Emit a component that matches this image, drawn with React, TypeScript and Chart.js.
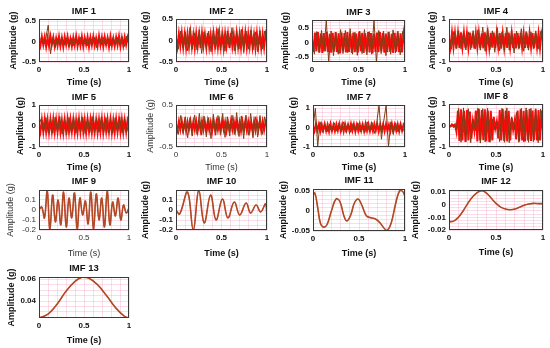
import React, { useEffect, useRef } from "react";
import { Chart, registerables } from "chart.js";
Chart.register(...registerables);

// ---------------- data ----------------
const imf1Red = [0.04,-0.1,0.12,-0.08,0.11,-0.13,0.09,-0.11,0.13,-0.07,0.1,-0.12,0.08,-0.1,0.12,-0.11,0.09,-0.13,0.11,-0.08,0.12,-0.1,0.07,-0.12,0.1,-0.09,0.13,-0.11,0.08,-0.1,0.12,-0.12,0.09,-0.08,0.11,-0.13,0.1,-0.09,0.12,-0.1,0.08,-0.11,0.13,-0.09,0.1,-0.12,0.11,-0.08,0.09,-0.13,0.12,-0.1,0.08,-0.11,0.1,-0.09,0.13,-0.12,0.09,-0.1,0.11,-0.08,0.1,-0.03];
const imf1Brown = [0.02,0.08,-0.06,0.1,0.4,-0.3,0.1,-0.15,0.08,-0.09,0.1,-0.08,0.09,-0.14,0.08,-0.1,0.09,-0.08,0.1,-0.09,0.08,-0.1,0.09,-0.08,0.1,-0.15,0.09,-0.08,0.1,-0.09,0.08,-0.1,0.09,-0.08,0.1,-0.09,0.12,-0.12,0.13,-0.1];

const imf2Red = [0.05,-0.15,0.16,-0.13,0.17,-0.16,0.14,-0.17,0.15,-0.14,0.18,-0.15,0.13,-0.17,0.16,-0.14,0.15,-0.18,0.17,-0.13,0.14,-0.16,0.18,-0.15,0.13,-0.17,0.16,-0.14,0.15,-0.16,0.17,-0.15,0.14,-0.18,0.16,-0.13,0.15,-0.17,0.18,-0.14,0.13,-0.16,0.17,-0.15,0.14,-0.17,0.16,-0.13,0.18,-0.16,0.15,-0.14,0.17,-0.15,0.13,-0.18,0.16,-0.14,0.15,-0.17,0.14,-0.16,0.15,0.02];
const imf2Brown = [0.1,-0.2,0.22,-0.18,0.2,-0.24,0.3,-0.2,0.18,-0.22,0.25,-0.3,0.2,-0.19,0.22,-0.26,0.24,-0.2,0.28,-0.22,0.2,-0.25,0.22,-0.18,0.3,-0.24,0.21,-0.2,0.26,-0.28,0.22,-0.2,0.24,-0.22,0.2,-0.26,0.23,-0.2,0.22,-0.1];

const imf3Red = [0.1,-0.32,0.35,-0.3,0.36,-0.34,0.31,-0.36,0.33,-0.3,0.37,-0.33,0.3,-0.35,0.34,-0.31,0.36,-0.33,0.32,-0.37,0.35,-0.3,0.33,-0.34,0.36,-0.32,0.3,-0.36,0.35,-0.33,0.31,-0.35,0.37,-0.3,0.34,-0.36,0.32,-0.31,0.36,-0.34,0.33,-0.37,0.3,-0.32,0.35,-0.33,0.36,-0.3,0.34,-0.35,0.31,-0.33,0.37,-0.32,0.3,-0.36,0.34,-0.31,0.35,-0.33,0.32,-0.34,0.3,-0.05];
const imf3Brown = [0.2,-0.4,0.38,-0.35,0.42,-0.3,0.78,-0.67,0.4,-0.45,0.35,-0.4,0.45,-0.38,0.42,-0.35,0.48,-0.4,0.36,-0.44,0.4,-0.38,0.45,-0.42,0.38,-0.4,0.78,-0.67,0.42,-0.38,0.4,-0.45,0.36,-0.4,0.44,-0.36,0.4,-0.42,0.38,-0.1];

const imf4Red = [0.1,-0.33,0.36,-0.32,0.34,-0.37,0.33,-0.35,0.38,-0.31,0.35,-0.36,0.32,-0.34,0.37,-0.33,0.36,-0.38,0.34,-0.32,0.35,-0.36,0.33,-0.37,0.38,-0.34,0.32,-0.35,0.36,-0.33,0.37,-0.36,0.34,-0.32,0.35,-0.38,0.33,-0.34,0.36,-0.35,0.37,-0.32,0.34,-0.36,0.33,-0.37,0.35,-0.34,0.36,-0.33,0.32,-0.35,0.37,-0.36,0.34,-0.33,0.35,-0.37,0.36,-0.32,0.34,-0.35,0.33,0.05];
const imf4Brown = [0.2,-0.4,0.42,-0.38,0.45,-0.4,0.38,-0.44,0.4,-0.42,0.46,-0.38,0.5,-0.45,0.62,-0.5,0.58,-0.42,0.45,-0.55,0.6,-0.48,0.4,-0.5,0.62,-0.45,0.5,-0.58,0.44,-0.4,0.55,-0.5,0.42,-0.45,0.4,-0.38,0.45,-0.4,0.42,-0.1];

const imf5Red = [0.05,-0.28,0.3,-0.27,0.32,-0.29,0.28,-0.31,0.3,-0.26,0.33,-0.3,0.29,-0.28,0.31,-0.3,0.27,-0.32,0.3,-0.28,0.32,-0.29,0.3,-0.27,0.31,-0.3,0.28,-0.31,0.33,-0.29,0.3,-0.28,0.29,-0.32,0.31,-0.27,0.3,-0.3,0.32,-0.29,0.28,-0.31,0.3,-0.28,0.33,-0.3,0.29,-0.27,0.31,-0.29,0.3,-0.32,0.28,-0.3,0.32,-0.28,0.3,-0.29,0.31,-0.3,0.28,-0.27,0.3,0.1];
const imf5Brown = [0.1,0.35,-0.3,0.4,-0.32,0.38,-0.35,0.42,-0.3,0.45,-0.38,0.36,-0.42,0.4,-0.33,0.44,-0.35,0.38,-0.3,0.42,-0.36,0.4,-0.32,0.45,-0.34,0.38,-0.3,0.43,-0.36,0.4,-0.33,0.42,-0.35,0.39,-0.31,0.44,-0.34,0.4,-0.3,0.2];

const imf6Red = [0.02,-0.1,0.11,-0.09,0.12,-0.1,0.09,-0.12,0.1,-0.08,0.12,-0.11,0.1,-0.09,0.11,-0.12,0.09,-0.1,0.12,-0.09,0.1,-0.11,0.11,-0.1,0.09,-0.12,0.12,-0.1,0.1,-0.09,0.11,-0.11,0.12,-0.08,0.1,-0.12,0.09,-0.1,0.11,-0.09,0.12,-0.11,0.1,-0.1,0.09,-0.12,0.11,-0.09,0.12,-0.1,0.1,-0.11,0.09,-0.12,0.11,-0.1,0.12,-0.09,0.1,-0.11,0.11,-0.1,0.09,0.0];
const imf6Brown = [0.05,-0.2,0.25,-0.18,0.22,-0.28,0.2,-0.24,0.26,-0.2,0.3,-0.22,0.24,-0.26,0.2,-0.3,0.28,-0.22,0.25,-0.2,0.3,-0.27,0.22,-0.24,0.26,-0.2,0.32,-0.25,0.24,-0.3,0.26,-0.22,0.3,-0.28,0.22,-0.26,0.25,-0.2,0.22,-0.05];

const imf7Red = [0.05,-0.18,0.2,-0.15,0.17,-0.19,0.16,-0.14,0.18,-0.17,0.15,-0.2,0.19,-0.16,0.14,-0.18,0.17,-0.15,0.2,-0.17,0.16,-0.19,0.18,-0.14,0.15,-0.18,0.19,-0.16,0.17,-0.2,0.15,-0.17,0.18,-0.15,0.16,-0.19,0.2,-0.16,0.17,-0.18,0.15,-0.17,0.19,-0.15,0.18,-0.2,0.16,-0.14,0.17,-0.19,0.18,-0.16,0.15,-0.18,0.2,-0.17,0.16,-0.15,0.18,-0.19,0.17,-0.16,0.15,0.02];
const imf7Brown = [0.0,1.0,-0.95,0.3,-0.25,0.2,-0.22,0.18,-0.2,0.25,-0.18,0.22,-0.2,0.3,-0.25,0.2,-0.24,0.22,-0.18,0.25,-0.22,0.2,-0.25,0.3,-0.2,0.28,-0.3,0.25,1.17,-0.6,0.35,1.15,-1.0,0.3,-0.35,0.25,-0.22,0.2,-0.2,0.05];

const imf8Red = [0.02,-0.04,0.05,-0.05,0.04,-0.3,0.7,-0.72,0.75,-0.7,0.68,-0.76,0.72,-0.7,0.65,-0.6,0.2,-0.25,0.7,-0.74,0.78,-0.7,0.72,-0.68,0.75,-0.73,0.7,-0.76,0.68,-0.7,0.4,-0.15,0.18,-0.6,0.72,-0.7,0.76,-0.72,0.7,-0.74,0.68,-0.7,0.35,-0.2,0.22,-0.65,0.7,-0.73,0.75,-0.7,0.68,-0.74,0.72,-0.7,0.76,-0.72,0.7,-0.68,0.74,-0.7,0.72,-0.69,0.7,-0.3];
const imf8Brown = [0.0,-0.05,0.05,-0.2,0.8,-0.78,0.82,-0.75,0.78,-0.8,0.3,-0.25,0.8,-0.82,0.78,-0.76,0.8,-0.78,0.3,-0.2,0.2,-0.75,0.8,-0.78,0.82,-0.8,0.4,-0.2,0.6,-0.78,0.8,-0.76,0.82,-0.78,0.8,-0.75,0.78,-0.8,0.76,-0.4];

const imf9Vals = [0, 0.03, -0.08, 0.19, -0.2, 0.15, -0.12, 0.1, -0.15, 0.18, -0.17, 0.12, -0.08, 0.17, -0.19, 0.12, -0.05, 0.09, -0.14, 0.18, -0.2, 0.16, -0.1, 0.12, -0.17, 0.19, -0.15, 0.08, -0.06, 0.12, -0.1, 0.05, -0.03, 0.02];

const imf10Time = [0, 0.04, 0.126, 0.19, 0.25, 0.31, 0.38, 0.44, 0.51, 0.57, 0.64, 0.7, 0.77, 0.82, 0.88, 0.93, 0.985, 1];
const imf10Vals = [0, -0.04, 0.18, -0.2, 0.2, -0.13, 0.15, -0.1, 0.11, -0.08, 0.08, -0.05, 0.07, -0.03, 0.05, -0.02, 0.06, -0.1];

const imf11Time = [0, 0.02, 0.05, 0.08, 0.11, 0.15, 0.2, 0.25, 0.29, 0.34, 0.37, 0.41, 0.45, 0.49, 0.53, 0.58, 0.63, 0.68, 0.73, 0.78, 0.81, 0.85, 0.9, 0.94, 0.97, 1];
const imf11Vals = [0.04, 0.045, 0.01, -0.03, -0.04, -0.035, 0.0, 0.03, 0.025, -0.015, -0.025, -0.01, 0.02, 0.03, 0.015, -0.012, -0.017, -0.02, -0.03, -0.045, -0.048, -0.03, 0.02, 0.05, 0.05, 0.038];

const imf12Time = [0, 0.05, 0.1, 0.15, 0.2, 0.25, 0.3, 0.35, 0.4, 0.45, 0.5, 0.55, 0.6, 0.65, 0.7, 0.75, 0.8, 0.85, 0.9, 0.95, 1];
const imf12Vals = [-0.0135, -0.013, -0.01, -0.005, 0.001, 0.006, 0.0095, 0.011, 0.009, 0.005, 0.001, -0.002, -0.0035, -0.004, -0.0035, -0.002, -0.0005, 0.0005, 0.001, 0.0008, 0.0008];

const imf13Time = [0, 0.1, 0.2, 0.3, 0.4, 0.48, 0.55, 0.65, 0.75, 0.85, 0.95, 1];
const imf13Vals = [0.0245, 0.028, 0.037, 0.049, 0.058, 0.0618, 0.061, 0.055, 0.045, 0.034, 0.026, 0.0245];

const xTickLabels = [0, 0.5, 1];

// ---------------- styles / layout ----------------
const RED = "#ff0a0a";
const BROWN = "#7d3f14";
const SMOOTH = "#b04a25";
const GRID = "rgba(240,150,185,0.32)";
const FONT = "'Liberation Sans', Arial, sans-serif";

type Series = { v: number[]; t?: number[]; c: string; w: number; tension?: number };
type Spec = {
  title: string;
  box: [number, number, number, number];
  yMin: number; yMax: number; yStep: number; yMajor: number[];
  yDist: number; titleOff: number; xTitleOff: number; bold: boolean;
  series: Series[];
};

const noisy = (brown: number[], red: number[]): Series[] => [
  { v: brown, c: BROWN, w: 1 },
  { v: red, c: RED, w: 2 },
];
const smooth = (v: number[], t?: number[]): Series[] => [
  { v, t, c: SMOOTH, w: 1.6, tension: 0.4 },
  { v, t, c: RED, w: 0.6, tension: 0.4 },
];

const SPECS: Spec[] = [
  { title: "IMF 1", box: [39, 19, 129, 62], yMin: -0.5, yMax: 0.55, yStep: 0.1, yMajor: [-0.5, 0, 0.5], yDist: 26, titleOff: 8, xTitleOff: 20, bold: true, series: noisy(imf1Brown, imf1Red) },
  { title: "IMF 2", box: [176, 19, 267, 62], yMin: -0.5, yMax: 0.5, yStep: 0.1, yMajor: [-0.5, 0, 0.5], yDist: 31, titleOff: 8, xTitleOff: 20, bold: true, series: noisy(imf2Brown, imf2Red) },
  { title: "IMF 3", box: [312, 20, 405, 62], yMin: -0.67, yMax: 0.78, yStep: 0.1, yMajor: [-0.5, 0, 0.5], yDist: 27, titleOff: 8, xTitleOff: 20, bold: true, series: noisy(imf3Brown, imf3Red) },
  { title: "IMF 4", box: [449, 19, 543, 62], yMin: -1, yMax: 1, yStep: 0.2, yMajor: [-1, 0, 1], yDist: 17, titleOff: 8, xTitleOff: 20, bold: true, series: noisy(imf4Brown, imf4Red) },
  { title: "IMF 5", box: [39, 105, 129, 147], yMin: -1, yMax: 1, yStep: 0.2, yMajor: [-1, 0, 1], yDist: 19, titleOff: 8, xTitleOff: 20, bold: true, series: noisy(imf5Brown, imf5Red) },
  { title: "IMF 6", box: [176, 105, 267, 147], yMin: -0.5, yMax: 0.5, yStep: 0.1, yMajor: [-0.5, 0, 0.5], yDist: 26, titleOff: 8, xTitleOff: 20, bold: false, series: noisy(imf6Brown, imf6Red) },
  { title: "IMF 7", box: [313, 105, 405, 147], yMin: -1, yMax: 1.17, yStep: 0.2, yMajor: [-1, 0, 1], yDist: 20, titleOff: 8, xTitleOff: 20, bold: true, series: noisy(imf7Brown, imf7Red) },
  { title: "IMF 8", box: [449, 104, 543, 147], yMin: -1, yMax: 1, yStep: 0.2, yMajor: [-1, 0, 1], yDist: 17, titleOff: 8, xTitleOff: 20, bold: true, series: noisy(imf8Brown, imf8Red) },
  { title: "IMF 9", box: [39, 190, 129, 230], yMin: -0.2, yMax: 0.2, yStep: 0.05, yMajor: [-0.2, -0.1, 0, 0.1], yDist: 29, titleOff: 9, xTitleOff: 23, bold: false, series: smooth(imf9Vals) },
  { title: "IMF 10", box: [176, 190, 267, 230], yMin: -0.2, yMax: 0.2, yStep: 0.05, yMajor: [-0.2, -0.1, 0, 0.1], yDist: 31, titleOff: 9, xTitleOff: 23, bold: true, series: smooth(imf10Vals, imf10Time) },
  { title: "IMF 11", box: [313, 189, 405, 231], yMin: -0.05, yMax: 0.055, yStep: 0.01, yMajor: [-0.05, 0, 0.05], yDist: 30, titleOff: 9, xTitleOff: 22, bold: true, series: smooth(imf11Vals, imf11Time) },
  { title: "IMF 12", box: [449, 190, 543, 230], yMin: -0.02, yMax: 0.0115, yStep: 0.0025, yMajor: [-0.02, -0.01, 0, 0.01], yDist: 34, titleOff: 9, xTitleOff: 22, bold: true, series: smooth(imf12Vals, imf12Time) },
  { title: "IMF 13", box: [39, 277, 129, 318], yMin: 0.0245, yMax: 0.062, yStep: 0.005, yMajor: [0.04, 0.06], yDist: 28, titleOff: 9, xTitleOff: 22, bold: true, series: smooth(imf13Vals, imf13Time) },
];

const framePlugin = {
  id: "frame",
  afterDatasetsDraw(chart: any) {
    const { ctx, chartArea } = chart;
    const { left, top, right, bottom } = chartArea;
    ctx.save();
    ctx.strokeStyle = "#3a3a3a";
    ctx.lineWidth = 1;
    ctx.strokeRect(Math.round(left) + 0.5, Math.round(top) + 0.5, Math.round(right - left) - 1, Math.round(bottom - top) - 1);
    ctx.restore();
  },
};

const stepTicks = (min: number, max: number, step: number) => {
  const out: { value: number }[] = [];
  const k0 = Math.ceil(min / step - 1e-6);
  const k1 = Math.floor(max / step + 1e-6);
  for (let k = k0; k <= k1; k++) out.push({ value: Number((k * step).toFixed(6)) });
  return out;
};

function SubPlot({ spec }: { spec: Spec }) {
  const ref = useRef<HTMLCanvasElement>(null);
  const [bl, bt, br, bb] = spec.box;
  const YW = Math.round(spec.yDist + 5.4);
  const titleLH = 12;
  const titlePad = spec.titleOff - titleLH / 2;
  const titleH = titleLH + titlePad;
  const XH = Math.round(spec.xTitleOff + 5.5);
  const boxW = br - bl;
  const boxH = bb - bt;
  const width = YW + boxW + YW;
  const height = Math.round(titleH + boxH + XH);
  const left = bl - YW;
  const top = Math.round(bt - titleH);
  const weight = spec.bold ? "bold" : "normal";
  const txtColor = spec.bold ? "#111" : "#333";

  useEffect(() => {
    if (!ref.current) return;
    const datasets = spec.series.map((s) => ({
      data: s.v.map((y, i) => ({ x: s.t ? s.t[i] : i / (s.v.length - 1), y })),
      borderColor: s.c,
      borderWidth: s.w,
      pointRadius: 0,
      tension: s.tension ?? 0,
      fill: false,
      yAxisID: "y",
    }));
    const tickFont = { family: FONT, size: 8, weight, lineHeight: "10px" };
    const axTitleFont = { family: FONT, size: 9, weight, lineHeight: "11px" };
    const chart = new Chart(ref.current, {
      type: "line",
      data: { datasets },
      plugins: [framePlugin],
      options: {
        animation: false,
        responsive: false,
        events: [],
        layout: { padding: 0 },
        plugins: {
          legend: { display: false },
          tooltip: { enabled: false },
          title: {
            display: true,
            text: spec.title,
            color: "#111",
            font: { family: FONT, size: 9.5, weight: "bold", lineHeight: titleLH + "px" },
            padding: { top: 0, bottom: titlePad },
          },
        },
        scales: {
          x: {
            type: "linear",
            min: 0,
            max: 1,
            afterFit: (s: any) => { s.height = XH; },
            afterBuildTicks: (s: any) => { s.ticks = stepTicks(0, 1, 0.1); },
            ticks: {
              autoSkip: false,
              maxRotation: 0,
              padding: 3,
              color: txtColor,
              font: tickFont,
              callback: (v: any) => {
                const m = xTickLabels.find((mm) => Math.abs(Number(v) - mm) < 1e-6);
                return m === undefined ? "" : String(m);
              },
            },
            grid: { color: GRID, drawTicks: false, lineWidth: 1 },
            border: { display: false },
            title: { display: true, text: "Time (s)", color: txtColor, padding: 0, font: axTitleFont },
          },
          y: {
            type: "linear",
            position: "left",
            min: spec.yMin,
            max: spec.yMax,
            afterFit: (s: any) => { s.width = YW; },
            afterBuildTicks: (s: any) => { s.ticks = stepTicks(spec.yMin, spec.yMax, spec.yStep); },
            ticks: {
              autoSkip: false,
              padding: 3,
              color: txtColor,
              font: tickFont,
              callback: (v: any) => {
                const m = spec.yMajor.find((mm) => Math.abs(Number(v) - mm) < spec.yStep * 1e-3);
                return m === undefined ? "" : String(m);
              },
            },
            grid: { color: GRID, drawTicks: false, lineWidth: 1 },
            border: { display: false },
            title: { display: true, text: "Amplitude (g)", color: txtColor, padding: 0, font: axTitleFont },
          },
          yPad: {
            type: "linear",
            position: "right",
            display: true,
            afterFit: (s: any) => { s.width = YW; },
            ticks: { display: false },
            grid: { display: false, drawOnChartArea: false, drawTicks: false },
            border: { display: false },
            title: { display: false },
          },
        },
      },
    } as any);
    return () => chart.destroy();
  }, []);

  return (
    <canvas
      ref={ref}
      width={width}
      height={height}
      style={{ position: "absolute", left, top, width, height }}
    />
  );
}

export default function App() {
  return (
    <div style={{ position: "absolute", left: 0, top: 0, width: 550, height: 348, background: "#fff", overflow: "hidden" }}>
      {SPECS.map((s) => (
        <SubPlot key={s.title} spec={s} />
      ))}
    </div>
  );
}
